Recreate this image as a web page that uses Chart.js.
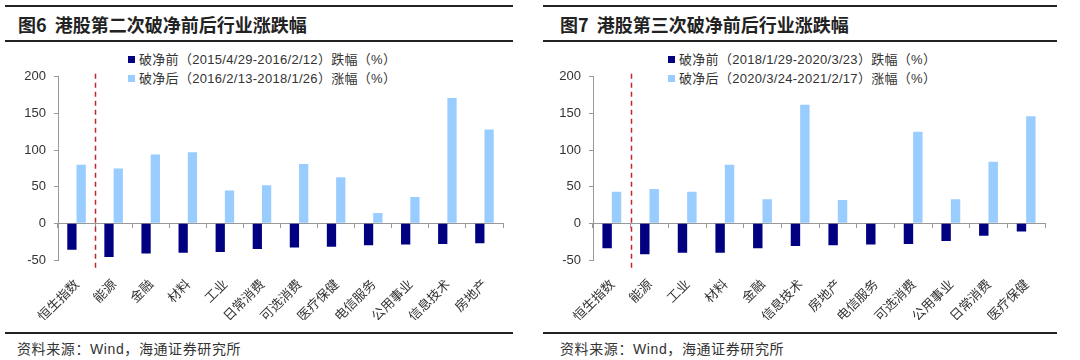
<!DOCTYPE html>
<html>
<head>
<meta charset="utf-8">
<script src="https://cdn.jsdelivr.net/npm/chart.js@4.4.0/dist/chart.umd.min.js"></script>
<style>
  body { margin: 0; background: #fff; }
  #page { position: relative; width: 1080px; height: 360px; overflow: hidden; font-family: "Liberation Sans", "Noto Sans CJK SC", sans-serif; color: #333; }
  .panel { position: absolute; top: 0; width: 540px; height: 360px; }
  .rule { position: absolute; height: 2px; background: #222; }
  .title { position: absolute; top: 11px; font-family: "Noto Sans CJK SC", sans-serif; font-weight: bold; font-size: 18px; color: #222; white-space: nowrap; }
  .legend { position: absolute; top: 51px; font-size: 13px; line-height: 18.5px; letter-spacing: 0.3px; white-space: nowrap; color: #333; }
  .legend span.box { display: inline-block; width: 7px; height: 7px; margin-right: 4px; vertical-align: 1px; }
  .src { position: absolute; top: 338px; font-size: 14px; letter-spacing: 0.6px; white-space: nowrap; color: #333; }
  canvas { position: absolute; top: 61px; }
</style>
</head>
<body>
<div id="page">
  <div class="panel" style="left:0">
    <div class="rule" style="left:5px;width:508px;top:5px"></div>
    <div class="title" style="left:18px">图6&nbsp;&nbsp;港股第二次破净前后行业涨跌幅</div>
    <div class="rule" style="left:5px;width:508px;top:40px"></div>
    <div class="legend" id="legend1" style="left:128px"></div>
    <canvas id="c1" width="520" height="259" style="left:0"></canvas>
    <div class="rule" style="left:5px;width:508px;top:332px"></div>
    <div class="src" style="left:17px">资料来源：Wind，海通证券研究所</div>
  </div>
  <div class="panel" style="left:540px">
    <div class="rule" style="left:3px;width:514px;top:5px"></div>
    <div class="title" style="left:20px">图7&nbsp;&nbsp;港股第三次破净前后行业涨跌幅</div>
    <div class="rule" style="left:3px;width:514px;top:40px"></div>
    <div class="legend" id="legend2" style="left:128px"></div>
    <canvas id="c2" width="520" height="259" style="left:0"></canvas>
    <div class="rule" style="left:3px;width:514px;top:332px"></div>
    <div class="src" style="left:20px">资料来源：Wind，海通证券研究所</div>
  </div>
</div>
<script>
// 图6 第二次破净
var cats1 = ["恒生指数", "能源", "金融", "材料", "工业", "日常消费", "可选消费", "医疗保健", "电信服务", "公用事业", "信息技术", "房地产"];
var before1 = [-36, -46, -41, -40, -39, -35, -33, -32, -30, -29, -28, -27];
var after1 = [80, 75, 94, 97, 45, 52, 81, 63, 14, 36, 171, 128];
var names1 = ["破净前（2015/4/29-2016/2/12）跌幅（%）", "破净后（2016/2/13-2018/1/26）涨幅（%）"];

// 图7 第三次破净
var cats2 = ["恒生指数", "能源", "工业", "材料", "金融", "信息技术", "房地产", "电信服务", "可选消费", "公用事业", "日常消费", "医疗保健"];
var before2 = [-34, -42, -40, -40, -34, -31, -30, -29, -28, -24, -17, -11];
var after2 = [43, 47, 43, 80, 33, 162, 32, 0, 125, 33, 84, 146];
var names2 = ["破净前（2018/1/29-2020/3/23）跌幅（%）", "破净后（2020/3/24-2021/2/17）涨幅（%）"];

var yTicks = [-50, 0, 50, 100, 150, 200];

var darkBlue = "#000080", lightBlue = "#99ccff";

// red dashed separator between 恒生指数 and the sectors
var divider = {
    id: "divider",
    afterDatasetsDraw: function(chart) {
        var x = chart.scales.x, ca = chart.chartArea, ctx = chart.ctx;
        var px = Math.round((x.getPixelForValue(0) + x.getPixelForValue(1)) / 2) + 0.5;
        ctx.save();
        ctx.strokeStyle = "#c0272d";
        ctx.lineWidth = 1.5;
        ctx.setLineDash([5, 4]);
        ctx.beginPath();
        ctx.moveTo(px, ca.top - 3);
        ctx.lineTo(px, ca.bottom + 10);
        ctx.stroke();
        ctx.restore();
    }
};

function legendHtml(el, names) {
    var cols = [darkBlue, lightBlue];
    var h = "";
    for (var i = 0; i < names.length; i++) {
        h += '<div><span class="box" style="background:' + cols[i] + '"></span>' + names[i] + "</div>";
    }
    el.innerHTML = h;
}

function makeChart(id, cats, before, after, names, yWidth, padRight) {
    return new Chart(document.getElementById(id), {
        type: "bar",
        data: {
            labels: cats,
            datasets: [
                { label: names[0], data: before, backgroundColor: darkBlue, categoryPercentage: 0.5, barPercentage: 1.0 },
                { label: names[1], data: after, backgroundColor: lightBlue, categoryPercentage: 0.5, barPercentage: 1.0 }
            ]
        },
        options: {
            responsive: false,
            animation: false,
            layout: { padding: { top: 3, right: padRight, bottom: 0, left: 0 } },
            plugins: { legend: { display: false }, tooltip: { enabled: false } },
            scales: {
                x: {
                    grid: { display: false },
                    border: { display: false },
                    ticks: {
                        autoSkip: false, minRotation: 45, maxRotation: 45, padding: 8,
                        color: "#333", font: { family: "Noto Sans CJK SC", size: 13 }
                    },
                    afterFit: function(s) { s.height = 60; }
                },
                x0: {
                    type: "category",
                    position: { y: 0 },
                    offset: true,
                    grid: { offset: true, drawOnChartArea: false, drawTicks: true, tickLength: 4, color: "#999" },
                    border: { display: true, color: "#999", width: 1 },
                    ticks: { display: false }
                },
                y: {
                    min: -50, max: 200,
                    afterBuildTicks: function(s) { s.ticks = yTicks.map(function(v) { return { value: v }; }); },
                    grid: { drawOnChartArea: false, drawTicks: true, tickLength: 4, color: "#999" },
                    border: { display: true, color: "#999" },
                    ticks: { padding: 8, color: "#333", font: { family: "Liberation Sans", size: 13 } },
                    afterFit: function(s) { s.width = yWidth; }
                }
            }
        },
        plugins: [divider]
    });
}

legendHtml(document.getElementById("legend1"), names1);
legendHtml(document.getElementById("legend2"), names2);
makeChart("c1", cats1, before1, after1, names1, 58, 17);
makeChart("c2", cats2, before2, after2, names2, 53, 15);
</script>
</body>
</html>
